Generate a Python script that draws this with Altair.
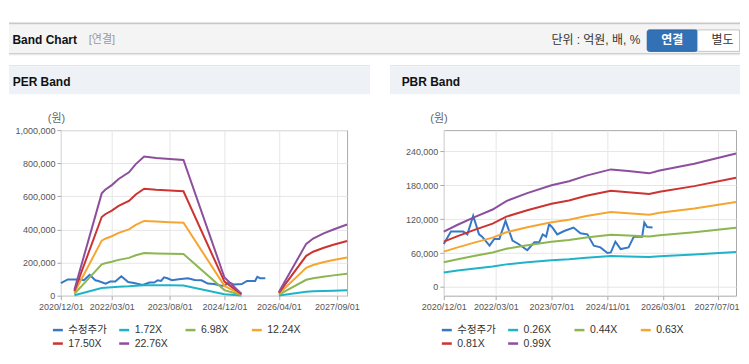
import altair as alt
import pandas as pd

FONT = "Liberation Sans, Noto Sans CJK KR, sans-serif"

# ---------------- data ----------------
price_label = "수정주가"
price_dates = ["2020-12-01", "2021-02-01", "2021-05-20", "2021-06-25", "2021-08-15", "2021-10-05",
               "2021-11-01", "2022-01-05", "2022-02-15", "2022-04-01", "2022-05-25", "2022-07-25",
               "2022-09-15", "2022-12-01", "2023-02-01", "2023-03-15", "2023-04-15", "2023-05-15",
               "2023-06-10", "2023-07-10", "2023-08-20", "2023-10-20", "2024-01-10", "2024-03-10",
               "2024-05-10", "2024-07-05", "2024-09-01", "2024-11-01", "2024-12-01", "2025-01-10",
               "2025-02-25", "2025-05-05", "2025-06-20", "2025-09-01", "2025-09-20", "2025-10-15",
               "2025-12-01"]
price_values = [76000, 98000, 98000, 93000, 126000, 93000, 89000, 73000, 85000, 85000, 117000, 82000,
                76000, 65000, 79000, 79000, 93000, 89000, 111000, 105000, 93000, 99000, 105000, 95000,
                93000, 73000, 70000, 60000, 61000, 80000, 67000, 70000, 89000, 89000, 114000, 106000,
                105000]

# PER band (two segments separated by a gap)
per_band_dates = ["2021-04-01", "2021-12-01", "2022-01-01", "2022-03-01", "2022-05-01", "2022-08-01",
                  "2022-10-01", "2022-12-15", "2023-04-01", "2023-08-01", "2023-12-01", "2024-12-01",
                  "2025-05-01",
                  "2026-04-01", "2026-12-01", "2027-02-01", "2027-05-01", "2027-08-01", "2027-12-01"]
per_gap_date = "2026-01-01"
per_labels = ["1.72X", "6.98X", "12.24X", "17.50X", "22.76X"]
per_1_72 = [2700, 46700, 48400, 50500, 53300, 56300, 60100, 63500, 62900, 62400, 62000, 8300, 900,
            1700, 23700, 26100, 28300, 30200, 32500]
per_6_98 = [11000, 189500, 196300, 204900, 216200, 228500, 243800, 257600, 255200, 253300, 251500, 33700, 3700,
            6700, 96000, 105800, 115000, 122700, 131900]
per_12_24 = [19400, 332400, 344200, 359200, 379100, 400700, 427500, 451700, 447400, 444200, 441000, 59200, 6500,
             11800, 168300, 185500, 201700, 215100, 231200]
per_17_50 = [27700, 475200, 492100, 513600, 542100, 572800, 611300, 645900, 639700, 635100, 630500, 84600, 9200,
             16900, 240700, 265300, 288300, 307600, 330600]
per_22_76 = [36000, 618000, 640000, 668000, 705000, 745000, 795000, 840000, 832000, 826000, 820000, 110000, 12000,
             22000, 313000, 345000, 375000, 400000, 430000]

# PBR band
pbr_band_dates = ["2020-12-01", "2021-04-01", "2021-09-01", "2022-02-01", "2022-06-01", "2022-12-01",
                  "2023-07-01", "2023-12-01", "2024-05-01", "2024-12-01", "2025-05-01", "2025-11-01",
                  "2026-02-01", "2026-12-01", "2027-12-01"]
pbr_labels = ["0.26X", "0.44X", "0.63X", "0.81X", "0.99X"]
pbr_0_26 = [25700, 28900, 32600, 36000, 39900, 43600, 47300, 49100, 51700, 54600, 53800, 52800, 54100, 57200, 62000]
pbr_0_44 = [43600, 48900, 55100, 60900, 67600, 73800, 80000, 83100, 87600, 92400, 91100, 89300, 91600, 96900, 104900]
pbr_0_63 = [62400, 70000, 78900, 87200, 96700, 105600, 114500, 119000, 125400, 132400, 130500, 127900, 131100, 138700, 150200]
pbr_0_81 = [80200, 90000, 101500, 112100, 124400, 135800, 147300, 153000, 161200, 170200, 167700, 164500, 168500, 178400, 193100]
pbr_0_99 = [98000, 110000, 124000, 137000, 152000, 166000, 180000, 187000, 197000, 208000, 205000, 201000, 206000, 218000, 236000]

colors = ["#3778c6", "#1fb3c8", "#8cb650", "#f5a631", "#cc3331", "#8c4f9d"]

x_domain = ["2020-12-01", "2027-12-01"]
per_x_ticks = ["2020-12-01", "2022-03-01", "2023-08-01", "2024-12-01", "2026-04-01", "2027-09-01"]
pbr_x_ticks = ["2020-12-01", "2022-03-01", "2023-07-01", "2024-11-01", "2026-03-01", "2027-07-01"]
per_y_ticks = [0, 200000, 400000, 600000, 800000, 1000000]
per_y_domain = [0, 1000000]
pbr_y_ticks = [0, 60000, 120000, 180000, 240000]
pbr_y_domain = [-15500, 277500]


# ---------------- tables ----------------
def make_df(band_dates, bands, labels, gap=None):
    rows = [dict(date=d, value=v, series=price_label, seg="p") for d, v in zip(price_dates, price_values)]
    for lab, vals in zip(labels, bands):
        for d, v in zip(band_dates, vals):
            seg = "a" if (gap is None or d < gap) else "b"
            rows.append(dict(date=d, value=v, series=lab, seg=seg))
    return pd.DataFrame(rows)


per_df = make_df(per_band_dates, [per_1_72, per_6_98, per_12_24, per_17_50, per_22_76], per_labels, per_gap_date)
pbr_df = make_df(pbr_band_dates, [pbr_0_26, pbr_0_44, pbr_0_63, pbr_0_81, pbr_0_99], pbr_labels)


def dt(s):
    y, m, d = map(int, s.split("-"))
    return alt.DateTime(year=y, month=m, date=d, utc=True)


one = alt.Data(values=[{"k": 1}])


def box(x1, x2, y1, y2, fill, stroke=None, cr=0):
    kw = dict(fill=fill)
    if stroke:
        kw.update(stroke=stroke, strokeWidth=1)
    if cr:
        kw["cornerRadius"] = cr
    return alt.Chart(one).mark_rect(**kw).encode(
        x=alt.value(x1), x2=alt.value(x2), y=alt.value(y1), y2=alt.value(y2))


def label(x, y, text, size, color, weight="normal", align="left"):
    return alt.Chart(one).mark_text(
        text=text, fontSize=size, color=color, fontWeight=weight, align=align,
        baseline="middle", font=FONT).encode(x=alt.value(x), y=alt.value(y))


def panel(df, names, ydom, yticks, xticks, width, legend_x, extra, last_offset=0):
    enc_x = alt.X("date:T", title=None,
                  scale=alt.Scale(type="utc", domain=[dt(s) for s in x_domain], nice=False),
                  axis=alt.Axis(values=[dt(s) for s in xticks], format="%Y/%m/%d", labelAngle=0,
                                labelPadding=3, labelOverlap=False, labelFlush=False,
                                labelOffset={"condition": {"test": "datum.value > 1800000000000",
                                                           "value": last_offset}, "value": 0}))
    enc_y = alt.Y("value:Q", title=None,
                  scale=alt.Scale(domain=ydom, nice=False, zero=False),
                  axis=alt.Axis(values=yticks, format=",d", labelPadding=2, labelFlush=False))
    enc_c = alt.Color("series:N", scale=alt.Scale(domain=names, range=colors),
                      legend=alt.Legend(title=None, orient="none", legendX=legend_x, legendY=194,
                                        direction="horizontal", columns=4, symbolType="stroke",
                                        symbolSize=100, symbolStrokeWidth=2.5, labelFont=FONT,
                                        labelFontSize=10.5, labelColor="#333333", columnPadding=6.5,
                                        rowPadding=1.5, gridAlign="all", labelOffset=4, padding=0))
    lines = alt.Chart(df).mark_line(strokeWidth=2).encode(
        x=enc_x, y=enc_y, color=enc_c, detail="seg:N")
    return alt.layer(*extra, lines).properties(width=width, height=166)


# decorations, relative to the PER plot origin (canvas spans x -52..681, y -121..)
R = 681
left_extra = [
    box(-52, -51, -121, -120, "white"),
    box(-52, R, -108, -106, "#c8c8c8"),
    box(-52, R, -106, -77, "#f4f4f4"),
    box(-52, R, -77, -76, "#c2c2c2"),
    box(-52, R, -76, -75, "#e6e6e6"),
    label(-48.5, -90, "Band Chart", 12, "#111111", "bold"),
    label(28, -90, "[연결]", 11, "#999999"),
    label(581, -90, "단위 : 억원, 배, %", 12, "#333333", align="right"),
    box(588, 638.5, -100.5, -79, "#3271b6", stroke="#2b62a3", cr=2),
    box(638.5, 680.5, -100.5, -79, "white", stroke="#c4c4c4"),
    label(613, -90, "연결", 12, "white", "bold", align="center"),
    label(663.5, -90, "별도", 12, "#333333", align="center"),
    box(-52, 310, -65, -64, "#dcdcdc"),
    box(-52, 310, -64, -36, "#eef2f7"),
    label(-48.3, -48.5, "PER Band", 12, "#111111", "bold"),
    box(330, R, -65, -64, "#dcdcdc"),
    box(330, R, -64, -36, "#eef2f7"),
    label(341.7, -48.5, "PBR Band", 12, "#111111", "bold"),
    label(-4.3, -10.7, "(원)", 11, "#666666", align="center"),
]
right_extra = [
    label(-4.8, -10.7, "(원)", 11, "#666666", align="center"),
]

per_chart = panel(per_df, [price_label] + per_labels, per_y_domain, per_y_ticks, per_x_ticks,
                  287, -9.5, left_extra)
pbr_chart = panel(pbr_df, [price_label] + pbr_labels, pbr_y_domain, pbr_y_ticks, pbr_x_ticks,
                  293, -3.5, right_extra, last_offset=-2)

chart = alt.hconcat(per_chart, pbr_chart, spacing=97, bounds="flush").resolve_scale(
    color="independent", x="independent", y="independent"
).resolve_legend(color="independent").properties(padding=0).configure_view(
    stroke="#aaaaaa", strokeWidth=1
).configure_axis(
    labelFont=FONT, labelFontSize=9, labelColor="#555555", tickColor="#aaaaaa", tickSize=4,
    domain=False, gridColor="#e6e6e6"
)

chart.save("out.html", embed_options={"renderer": "svg", "actions": False})
